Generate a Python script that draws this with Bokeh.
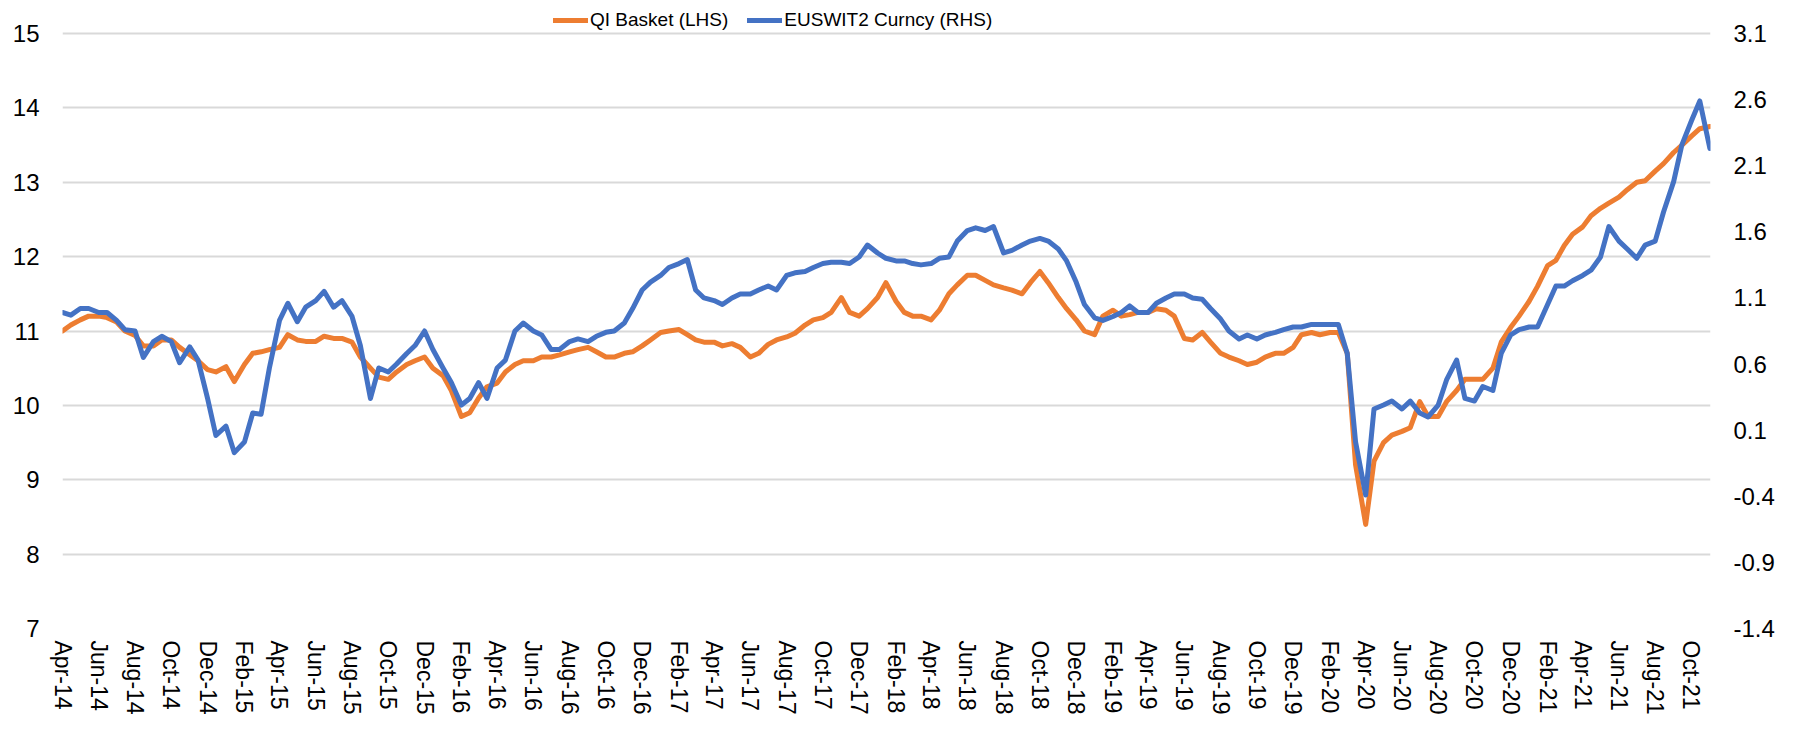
import pandas as pd
from bokeh.plotting import figure
from bokeh.models import (Range1d, LinearAxis, FixedTicker, DatetimeTickFormatter,
                          NumeralTickFormatter, Legend, LegendItem, ColumnDataSource)
from bokeh.embed import file_html
from bokeh.resources import INLINE

# ---------------- data (semi-monthly readings) ----------------
start_date = "2014-04-01"

qi_basket = [
    11.0, 11.08, 11.15, 11.2, 11.2, 11.18, 11.12, 11.0, 10.94, 10.8,
    10.8, 10.88, 10.88, 10.78, 10.68, 10.6, 10.48, 10.45, 10.52, 10.32,
    10.55, 10.7, 10.72, 10.75, 10.78, 10.95, 10.88, 10.86, 10.86, 10.93,
    10.9, 10.9, 10.85, 10.65, 10.5, 10.38, 10.35, 10.45, 10.55, 10.6,
    10.65, 10.5, 10.4, 10.2, 9.85, 9.9, 10.1, 10.25, 10.3, 10.45,
    10.55, 10.6, 10.6, 10.65, 10.65, 10.68, 10.72, 10.75, 10.78, 10.72,
    10.65, 10.65, 10.7, 10.72, 10.8, 10.88, 10.98, 11.0, 11.02, 10.95,
    10.88, 10.85, 10.85, 10.8, 10.83, 10.78, 10.65, 10.7, 10.82, 10.88,
    10.92, 10.97, 11.08, 11.15, 11.18, 11.25, 11.45, 11.25, 11.2, 11.3,
    11.45, 11.65, 11.4, 11.25, 11.2, 11.2, 11.15, 11.28, 11.5, 11.62,
    11.75, 11.75, 11.68, 11.62, 11.58, 11.55, 11.5, 11.65, 11.8, 11.65,
    11.45, 11.3, 11.15, 11.0, 10.95, 11.2, 11.28, 11.2, 11.22, 11.25,
    11.25, 11.3, 11.28, 11.2, 10.9, 10.88, 10.98, 10.85, 10.7, 10.65,
    10.6, 10.55, 10.58, 10.65, 10.7, 10.7, 10.78, 10.95, 10.98, 10.95,
    10.98, 10.98, 10.7, 9.2, 8.4, 9.25, 9.5, 9.6, 9.65, 9.7,
    10.05, 9.85, 9.85, 10.05, 10.2, 10.35, 10.35, 10.35, 10.5, 10.85,
    11.05, 11.2, 11.4, 11.6, 11.88, 11.95, 12.15, 12.3, 12.4, 12.55,
    12.65, 12.72, 12.8, 12.9, 13.0, 13.02, 13.15, 13.25, 13.4, 13.5,
    13.62, 13.72, 13.75,
]

euswit2 = [
    0.99, 0.97, 1.02, 1.02, 0.99, 0.99, 0.93, 0.86, 0.85, 0.65,
    0.77, 0.81, 0.77, 0.61, 0.73, 0.63, 0.34, 0.06, 0.13, -0.07,
    0.01, 0.23, 0.22, 0.57, 0.93, 1.06, 0.92, 1.03, 1.08, 1.15,
    1.03, 1.08, 0.96, 0.74, 0.34, 0.57, 0.54, 0.60, 0.68, 0.74,
    0.85, 0.71, 0.57, 0.46, 0.29, 0.34, 0.46, 0.34, 0.57, 0.63,
    0.85, 0.91, 0.85, 0.82, 0.71, 0.71, 0.77, 0.79, 0.77, 0.81,
    0.84, 0.85, 0.91, 1.02, 1.16, 1.22, 1.27, 1.33, 1.36, 1.39,
    1.16, 1.10, 1.08, 1.05, 1.10, 1.13, 1.13, 1.16, 1.19, 1.16,
    1.27, 1.29, 1.30, 1.33, 1.36, 1.37, 1.37, 1.36, 1.41, 1.50,
    1.44, 1.40, 1.38, 1.38, 1.36, 1.35, 1.36, 1.40, 1.41, 1.53,
    1.61, 1.63, 1.61, 1.64, 1.44, 1.46, 1.50, 1.53, 1.55, 1.53,
    1.47, 1.38, 1.22, 1.05, 0.95, 0.93, 0.96, 0.99, 1.04, 0.99,
    0.99, 1.06, 1.10, 1.13, 1.13, 1.10, 1.09, 1.02, 0.94, 0.85,
    0.79, 0.82, 0.79, 0.82, 0.84, 0.86, 0.88, 0.88, 0.90, 0.90,
    0.90, 0.90, 0.68, 0.01, -0.39, 0.26, 0.29, 0.32, 0.26, 0.32,
    0.23, 0.20, 0.29, 0.48, 0.63, 0.34, 0.32, 0.43, 0.40, 0.68,
    0.82, 0.86, 0.88, 0.88, 1.05, 1.19, 1.19, 1.23, 1.27, 1.31,
    1.41, 1.64, 1.53, 1.47, 1.40, 1.50, 1.53, 1.75, 1.98, 2.26,
    2.44, 2.59, 2.23,
]

series_names = ["QI Basket (LHS)", "EUSWIT2 Curncy (RHS)"]
lhs_ticks = [7, 8, 9, 10, 11, 12, 13, 14, 15]
rhs_ticks = [-1.4, -0.9, -0.4, 0.1, 0.6, 1.1, 1.6, 2.1, 2.6, 3.1]
x_tick_start = "2014-04-01"
x_tick_end = "2021-10-01"

# ---------------- layout constants ----------------
FIG_W, FIG_H = 1777, 721
BORDER_L, BORDER_R, BORDER_B = 62, 65, 93
TOP_PAD_PX = 33                      # room above the top gridline for the legend
frame_h = FIG_H - BORDER_B
grid_h = frame_h - TOP_PAD_PX
lhs_span = lhs_ticks[-1] - lhs_ticks[0]
rhs_span = rhs_ticks[-1] - rhs_ticks[0]
lhs_top = lhs_ticks[-1] + TOP_PAD_PX * lhs_span / grid_h
rhs_top = rhs_ticks[-1] + TOP_PAD_PX * rhs_span / grid_h

# ---------------- build ----------------
dates = pd.date_range(start_date, periods=len(qi_basket), freq="SMS")
src = ColumnDataSource(dict(date=dates, qi=qi_basket, sw=euswit2))

ORANGE = "#ED7D31"
BLUE = "#4472C4"
GRID = "#D9D9D9"

p = figure(width=FIG_W, height=FIG_H, x_axis_type="datetime",
           output_backend="svg", toolbar_location=None,
           x_range=Range1d(pd.Timestamp("2014-04-01"), pd.Timestamp("2021-11-02")),
           y_range=Range1d(lhs_ticks[0], lhs_top),
           min_border_left=BORDER_L, min_border_right=BORDER_R,
           min_border_top=0, min_border_bottom=BORDER_B)
p.outline_line_color = None
p.background_fill_color = "white"
p.border_fill_color = "white"

p.extra_y_ranges = {"rhs": Range1d(rhs_ticks[0], rhs_top)}

r_qi = p.line("date", "qi", source=src, line_color=ORANGE, line_width=5,
              line_join="round", line_cap="round")
r_sw = p.line("date", "sw", source=src, y_range_name="rhs", line_color=BLUE,
              line_width=5, line_join="round", line_cap="round")


def style_axis(ax, size, standoff):
    ax.major_label_text_font = "Liberation Sans"
    ax.major_label_text_font_size = size
    ax.major_label_text_color = "#000000"
    ax.major_label_standoff = standoff
    ax.axis_line_color = None
    ax.major_tick_line_color = None
    ax.minor_tick_line_color = None
    ax.major_tick_out = 0
    ax.major_tick_in = 0
    ax.minor_tick_out = 0
    ax.minor_tick_in = 0


# left axis
yax = p.yaxis[0]
yax.ticker = FixedTicker(ticks=lhs_ticks)
style_axis(yax, "24px", 23)

# right axis
rax = LinearAxis(y_range_name="rhs", ticker=FixedTicker(ticks=rhs_ticks),
                 formatter=NumeralTickFormatter(format="0.0"))
style_axis(rax, "24px", 23)
p.add_layout(rax, "right")

# x axis
tick_dates = pd.date_range(x_tick_start, x_tick_end, freq="2MS")
xax = p.xaxis[0]
xax.ticker = FixedTicker(ticks=[d.timestamp() * 1000 for d in tick_dates])
fmt = "%b-%y"
xax.formatter = DatetimeTickFormatter(days=fmt, months=fmt, years=fmt, hours=fmt,
                                      hourmin=fmt, minutes=fmt, minsec=fmt,
                                      seconds=fmt, milliseconds=fmt, microseconds=fmt)
xax.major_label_orientation = "vertical"
style_axis(xax, "23px", 12)

p.xgrid.grid_line_color = None
p.ygrid.grid_line_color = GRID
p.ygrid.grid_line_width = 2

legend = Legend(items=[LegendItem(label=series_names[0], renderers=[r_qi]),
                       LegendItem(label=series_names[1], renderers=[r_sw])],
                orientation="horizontal", location=(491, 597))
legend.label_text_font = "Liberation Sans"
legend.label_text_font_size = "19px"
legend.label_text_color = "#000000"
legend.glyph_width = 35
legend.glyph_height = 20
legend.label_height = 20
legend.label_standoff = 2
legend.spacing = 19
legend.padding = 0
legend.margin = 0
legend.border_line_color = None
legend.background_fill_alpha = 0
p.add_layout(legend)

open("out.html", "w").write(file_html(p, INLINE))
